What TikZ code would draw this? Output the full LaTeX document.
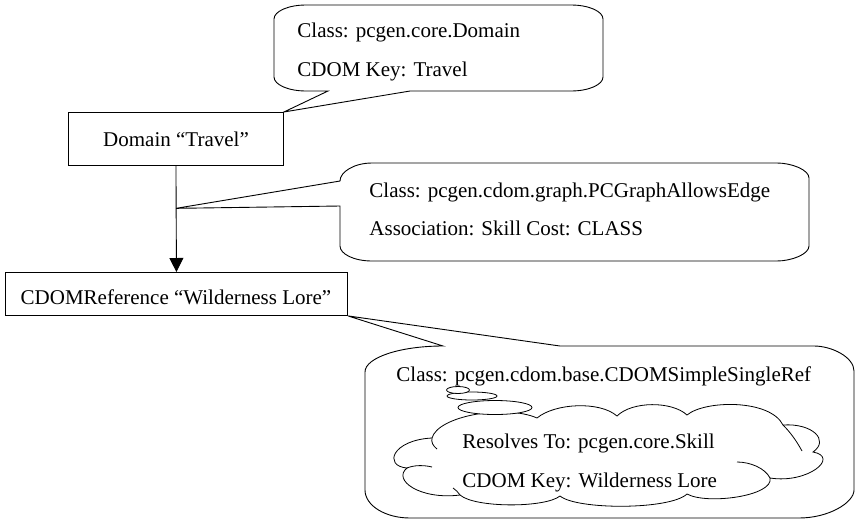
\documentclass[tikz,border=0pt]{standalone}
\usepackage{fontspec}
\setmainfont{Liberation Serif}
\usetikzlibrary{arrows.meta,calc}
\begin{document}
\begin{tikzpicture}[x=1pt,y=-1pt,line width=0.9pt,
  txt/.style={inner sep=0pt,anchor=base west,font=\fontsize{21}{25}\selectfont},
  bubble/.style={draw,fill=white,line join=miter},
  cloudline/.style={draw,line width=0.8pt},
  thought/.style={draw,fill=white,line width=0.8pt}]
\useasboundingbox (0,0) rectangle (861,525);

% boxes
\node[inner sep=0pt,minimum width=215pt,minimum height=53pt,draw,anchor=north west] (dom) at (68,112) {};
\node[txt,anchor=base] (domt) at (176,146) {Domain “Travel”};
\node[inner sep=0pt,minimum width=342pt,minimum height=43pt,draw,anchor=north west] (ref) at (5,272) {};
\node[txt,anchor=base] (reft) at (176,304) {CDOMReference “Wilderness Lore”};

% arrow
\draw[-{Triangle[width=14pt,length=14pt]}] (dom.south) -- (ref.north);
\coordinate (tip2) at ($(dom.south)!0.40!(ref.north)$);

% bubble 1
\draw[bubble] (410,91) -- (571,91) .. controls (588.7,91) and (603,84.7) .. (603,77)
  -- (603,19) .. controls (603,11.3) and (588.7,5) .. (571,5)
  -- (306,5) .. controls (288.3,5) and (274,11.3) .. (274,19)
  -- (274,77) .. controls (274,84.7) and (288.3,91) .. (306,91)
  -- (328,91) -- (dom.north east) -- cycle;
\node[txt] (b1a) at (297,37) {Class: pcgen.core.Domain};
\node[txt] (b1b) at (297,76) {CDOM Key: Travel};

% bubble 2
\draw[bubble] (340,181) .. controls (340,172) and (354,163) .. (372,163)
  -- (777,163) .. controls (791.3,163) and (809,169.7) .. (809,178)
  -- (809,246) .. controls (809,254.3) and (791.3,261) .. (777,261)
  -- (372,261) .. controls (354,261) and (340,254) .. (340,246)
  -- (340,206) -- (tip2) -- cycle;
\node[txt] (b2a) at (369,197) {Class: pcgen.cdom.graph.PCGraphAllowsEdge};
\node[txt] (b2b) at (369,235) {Association: Skill Cost: CLASS};

% bubble 3
\draw[bubble] (560,346) -- (814,346) .. controls (831.9,346) and (854,357.2) .. (854,371)
  -- (854,490) .. controls (854,502.5) and (829,518) .. (799,518)
  -- (410,518) .. controls (385.2,518) and (365,505.5) .. (365,490)
  -- (365,372) .. controls (365,357.6) and (400,346) .. (443,346)
  -- (ref.south east) -- cycle;
\node[txt] (b3a) at (396,381) {Class: pcgen.cdom.base.CDOMSimpleSingleRef};

% cloud
\draw[cloudline,fill=white] (432,438)
  .. controls (438,416) and (505,404) .. (537,418)
  .. controls (555,403) and (600,401) .. (617,416)
  .. controls (632,401) and (672,401) .. (687,415)
  .. controls (705,400) and (770,399) .. (783,425)
  .. controls (812,423) and (830,440) .. (813,452)
  .. controls (840,457) and (808,484) .. (770,478)
  .. controls (774,496) and (707,505) .. (687,494)
  .. controls (670,510) and (577,510) .. (560,496)
  .. controls (545,508) and (475,508) .. (460,495)
  .. controls (420,500) and (392,480) .. (407,468)
  .. controls (383,466) and (392,440) .. cycle;
\draw[cloudline] (783,425) .. controls (790,432) and (796,440) .. (802,451);
\draw[cloudline] (770,478) .. controls (765,468) and (750,462) .. (737,462);
\draw[cloudline] (407,468) .. controls (414,465) and (424,465) .. (432,467);
\draw[cloudline] (432,438) .. controls (431,442) and (433,446) .. (437,449);
\draw[cloudline] (460,495) .. controls (458,492) and (456,490) .. (453,488);
\draw[thought] (495,407.5) ellipse [x radius=37,y radius=7];
\draw[thought] (472,396) ellipse [x radius=25,y radius=4];
\draw[thought] (458,390) ellipse [x radius=11.5,y radius=3.5];
\node[txt] (c1) at (462,448) {Resolves To: pcgen.core.Skill};
\node[txt] (c2) at (462,487) {CDOM Key: Wilderness Lore};
\end{tikzpicture}
\end{document}
